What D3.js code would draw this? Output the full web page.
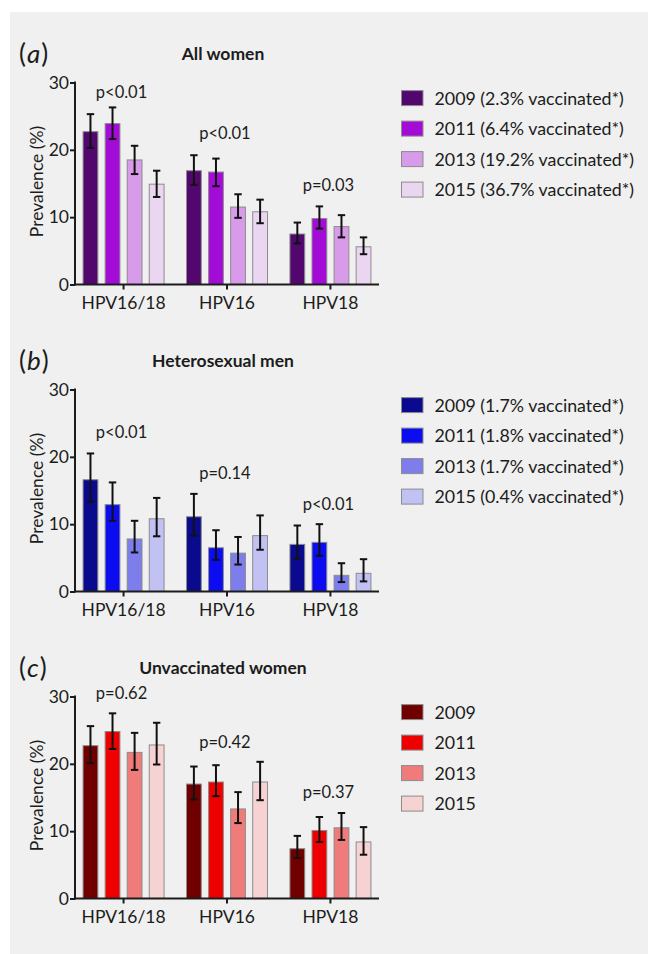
<!DOCTYPE html>
<html>
<head>
<meta charset="utf-8">
<script src="https://cdn.jsdelivr.net/npm/d3@7"></script>
<style>
  body { margin: 0; background: #fff; }
  svg { display: block; font-family: Lato, "Open Sans", sans-serif; }
</style>
</head>
<body>
<svg id="chart"></svg>
<script>
// categories
var groups = ["HPV16/18", "HPV16", "HPV18"];
var years = ["2009", "2011", "2013", "2015"];
var yTicks = [0, 10, 20, 30];

// panel texts
var letters = ["a", "b", "c"];
var titles = ["All women", "Heterosexual men", "Unvaccinated women"];
var legendA = ["2009 (2.3% vaccinated*)", "2011 (6.4% vaccinated*)", "2013 (19.2% vaccinated*)", "2015 (36.7% vaccinated*)"];
var legendB = ["2009 (1.7% vaccinated*)", "2011 (1.8% vaccinated*)", "2013 (1.7% vaccinated*)", "2015 (0.4% vaccinated*)"];
var legendC = ["2009", "2011", "2013", "2015"];

// colours per year
var colorsA = ["#52076f", "#a30bd6", "#d79be9", "#ead6f1"];
var colorsB = ["#0a0a8e", "#0c0cf0", "#7d7dec", "#c1c1f4"];
var colorsC = ["#700000", "#ee0000", "#f07b7b", "#f6d2d2"];

// prevalence (%) per group, per year
var valA = [[22.7, 23.9, 18.5, 14.9], [16.9, 16.7, 11.5, 10.8], [7.5, 9.8, 8.6, 5.6]];
var lowA = [[20.3, 21.6, 16.4, 13.0], [14.8, 14.6, 9.9, 9.1], [6.1, 8.3, 7.0, 4.5]];
var highA = [[25.3, 26.3, 20.6, 16.9], [19.2, 18.7, 13.4, 12.6], [9.2, 11.6, 10.3, 7.0]];

var valB = [[16.6, 12.9, 7.8, 10.8], [11.1, 6.5, 5.7, 8.3], [7.0, 7.3, 2.4, 2.7]];
var lowB = [[13.3, 10.5, 5.8, 8.2], [8.3, 4.7, 4.0, 6.2], [4.9, 5.3, 1.4, 1.5]];
var highB = [[20.5, 16.2, 10.5, 13.9], [14.5, 9.1, 8.1, 11.3], [9.8, 10.0, 4.2, 4.8]];

var valC = [[22.7, 24.8, 21.7, 22.8], [17.0, 17.3, 13.3, 17.3], [7.4, 10.1, 10.5, 8.4]];
var lowC = [[20.1, 22.2, 19.1, 19.9], [14.7, 15.2, 11.2, 14.6], [6.0, 8.4, 8.7, 6.5]];
var highC = [[25.6, 27.5, 24.6, 26.1], [19.6, 19.8, 15.8, 20.3], [9.3, 12.1, 12.7, 10.6]];

// p values over each group, and the height (%) they sit at
var pA = ["p<0.01", "p<0.01", "p=0.03"];
var pB = ["p<0.01", "p=0.14", "p<0.01"];
var pC = ["p=0.62", "p=0.42", "p=0.37"];
var pYA = [28.6, 22.5, 14.8];
var pYB = [23.7, 17.6, 13.0];
var pYC = [30.5, 23.2, 15.8];

var W = 648, H = 954;
var svg = d3.select("#chart").attr("width", W).attr("height", H);

svg.append("rect")
    .attr("x", 10).attr("y", 12)
    .attr("width", W - 10).attr("height", H - 12)
    .attr("fill", "#eff0ef");

var panels = [
    {vals: valA, low: lowA, high: highA, colors: colorsA, legend: legendA, p: pA, pY: pYA},
    {vals: valB, low: lowB, high: highB, colors: colorsB, legend: legendB, p: pB, pY: pYB},
    {vals: valC, low: lowC, high: highC, colors: colorsC, legend: legendC, p: pC, pY: pYC}
];

var left = 75, right = 379, plotH = 202, gap = 307;
var ink = "#1c1c1c";

var x0 = d3.scaleBand().domain(groups).range([left, right])
    .paddingInner(0.217).paddingOuter(0.078);
var x1 = d3.scaleBand().domain(years).range([0, x0.bandwidth()])
    .paddingInner(0.33).paddingOuter(0);

panels.forEach(function (pan, k) {
    var top = 82.5 + k * gap;
    var y = d3.scaleLinear().domain([0, 30]).range([top + plotH, top]);
    var g = svg.append("g");

    // panel letter and title
    var lt = g.append("text")
        .attr("x", 19).attr("y", top - 29 + 9)
        .attr("font-size", 26).attr("fill", ink);
    lt.append("tspan").text("(");
    lt.append("tspan").attr("font-style", "italic").attr("dx", 1).text(letters[k]);
    lt.append("tspan").attr("dx", 1).text(")");

    g.append("text")
        .attr("x", 223).attr("y", top - 29)
        .attr("dy", "0.35em")
        .attr("text-anchor", "middle")
        .attr("font-size", 17.5).attr("font-weight", "bold")
        .attr("fill", ink)
        .text(titles[k]);

    // bars
    var grp = g.selectAll(".grp").data(groups).enter().append("g")
        .attr("transform", function (d) { return "translate(" + x0(d) + ",0)"; });

    grp.each(function (gname, gi) {
        var sel = d3.select(this);
        sel.selectAll("rect").data(years).enter().append("rect")
            .attr("x", function (d) { return x1(d); })
            .attr("y", function (d, i) { return y(pan.vals[gi][i]); })
            .attr("width", x1.bandwidth())
            .attr("height", function (d, i) { return y(0) - y(pan.vals[gi][i]); })
            .attr("fill", function (d, i) { return pan.colors[i]; })
            .attr("stroke", "#8c8c8c")
            .attr("stroke-width", 1);

        var eb = sel.selectAll(".eb").data(years).enter().append("g")
            .attr("stroke", "#111").attr("stroke-width", 2);
        eb.append("line")
            .attr("x1", function (d) { return x1(d) + x1.bandwidth() / 2; })
            .attr("x2", function (d) { return x1(d) + x1.bandwidth() / 2; })
            .attr("y1", function (d, i) { return y(pan.low[gi][i]); })
            .attr("y2", function (d, i) { return y(pan.high[gi][i]); });
        [pan.low, pan.high].forEach(function (arr) {
            eb.append("line")
                .attr("x1", function (d) { return x1(d) + x1.bandwidth() / 2 - 3.7; })
                .attr("x2", function (d) { return x1(d) + x1.bandwidth() / 2 + 3.7; })
                .attr("y1", function (d, i) { return y(arr[gi][i]); })
                .attr("y2", function (d, i) { return y(arr[gi][i]); });
        });

        sel.append("text")
            .attr("x", x0.bandwidth() / 2 - 2)
            .attr("y", y(pan.pY[gi]))
            .attr("dy", "0.35em")
            .attr("text-anchor", "middle")
            .attr("font-size", 16.5).attr("fill", ink)
            .text(pan.p[gi]);
    });

    // axes
    var ya = g.append("g")
        .attr("transform", "translate(" + left + ",0)")
        .call(d3.axisLeft(y).tickValues(yTicks).tickSize(5).tickSizeOuter(0).tickPadding(1));
    var xa = g.append("g")
        .attr("transform", "translate(0," + y(0) + ")")
        .call(d3.axisBottom(x0).tickSize(5).tickSizeOuter(0).tickPadding(7));
    [ya, xa].forEach(function (a) {
        a.selectAll("path, line").attr("stroke", ink).attr("stroke-width", 2);
        a.selectAll("text").attr("fill", ink).attr("font-size", 17.5)
            .attr("font-family", "Lato, 'Open Sans', sans-serif");
    });
    ya.select(".domain").attr("d", "M0," + (y(30) - 1) + "V" + (y(0) + 1));
    xa.select(".domain").attr("d", "M" + (left - 1) + ",0H" + right);

    g.append("text")
        .attr("transform", "translate(37," + (top + plotH / 2 - 2) + ") rotate(-90)")
        .attr("dy", "0.35em")
        .attr("text-anchor", "middle")
        .attr("font-size", 17.5).attr("fill", ink)
        .text("Prevalence (%)");

    // legend
    var lg = g.selectAll(".lg").data(pan.legend).enter().append("g")
        .attr("transform", function (d, i) { return "translate(401.5," + (top + 15.6 + i * 30.5) + ")"; });
    lg.append("rect")
        .attr("x", 0).attr("y", -7.5)
        .attr("width", 21.5).attr("height", 15)
        .attr("fill", function (d, i) { return pan.colors[i]; })
        .attr("stroke", "#8c8c8c").attr("stroke-width", 1);
    lg.append("text")
        .attr("x", 33).attr("dy", "0.36em")
        .attr("font-size", 17.8).attr("fill", ink)
        .text(function (d) { return d; });
});
</script>
</body>
</html>
